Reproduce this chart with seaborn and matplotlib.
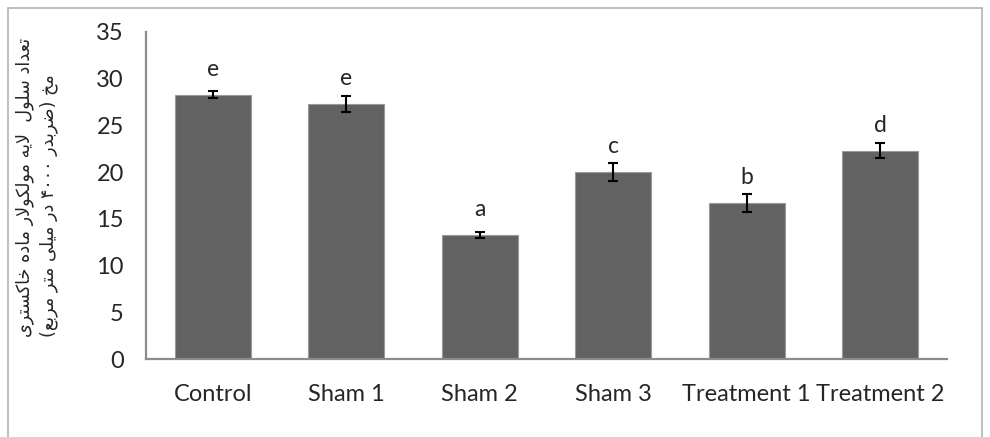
import re
import matplotlib
matplotlib.use('Agg')
import matplotlib.pyplot as plt
from matplotlib.lines import Line2D
import seaborn as sns
import pandas as pd

# data
groups = ['Control', 'Sham 1', 'Sham 2', 'Sham 3', 'Treatment 1', 'Treatment 2']
means = [28.3, 27.3, 13.3, 20.0, 16.7, 22.3]
errors = [0.4, 0.9, 0.3, 1.0, 1.0, 0.8]
letters = ['e', 'e', 'a', 'c', 'b', 'd']
yticks = [0, 5, 10, 15, 20, 25, 30, 35]
ylabel_lines = ['تعداد سلول  لایه مولکولار ماده خاکستری',
                'مخ (ضربدر ۴۰۰۰ در میلی متر مربع)']

# contextual forms (isolated, final, initial, medial) for the letters used
FORMS = {
    'ا': ('\uFE8D', '\uFE8E', None, None),
    'د': ('\uFEA9', '\uFEAA', None, None),
    'ر': ('\uFEAD', '\uFEAE', None, None),
    'و': ('\uFEED', '\uFEEE', None, None),
    'ب': ('\uFE8F', '\uFE90', '\uFE91', '\uFE92'),
    'ت': ('\uFE95', '\uFE96', '\uFE97', '\uFE98'),
    'خ': ('\uFEA5', '\uFEA6', '\uFEA7', '\uFEA8'),
    'س': ('\uFEB1', '\uFEB2', '\uFEB3', '\uFEB4'),
    'ض': ('\uFEBD', '\uFEBE', '\uFEBF', '\uFEC0'),
    'ع': ('\uFEC9', '\uFECA', '\uFECB', '\uFECC'),
    'ل': ('\uFEDD', '\uFEDE', '\uFEDF', '\uFEE0'),
    'م': ('\uFEE1', '\uFEE2', '\uFEE3', '\uFEE4'),
    'ه': ('\uFEE9', '\uFEEA', '\uFEEB', '\uFEEC'),
    'ک': ('\uFB8E', '\uFB8F', '\uFB90', '\uFB91'),
    'ی': ('\uFBFC', '\uFBFD', '\uFBFE', '\uFBFF'),
}


def shape(text):
    def links_next(c):
        return c in FORMS and FORMS[c][2] is not None
    out = []
    i = 0
    while i < len(text):
        c = text[i]
        if c not in FORMS:
            out.append(c)
            i += 1
            continue
        jp = i > 0 and links_next(text[i - 1])
        if c == 'ل' and i + 1 < len(text) and text[i + 1] == 'ا':
            out.append('\uFEFC' if jp else '\uFEFB')
            i += 2
            continue
        jn = links_next(c) and i + 1 < len(text) and text[i + 1] in FORMS
        iso, fin, ini, med = FORMS[c]
        if jp and jn:
            out.append(med)
        elif jp:
            out.append(fin)
        elif jn:
            out.append(ini)
        else:
            out.append(iso)
        i += 1
    # visual order: reverse, keep digit runs left-to-right, mirror brackets
    s = ''.join(out)
    runs = re.findall(r'[0-9\u06F0-\u06F9]+|[^0-9\u06F0-\u06F9]+', s)
    mirror = str.maketrans('()', ')(')
    vis = []
    for r in reversed(runs):
        if r[0] in '0123456789\u06F0\u06F1\u06F2\u06F3\u06F4\u06F5\u06F6\u06F7\u06F8\u06F9':
            vis.append(r)
        else:
            vis.append(r[::-1].translate(mirror))
    return ''.join(vis)


df = pd.DataFrame({'group': groups, 'mean': means})

sns.set_style('white')
plt.rcParams['font.family'] = ['Lato', 'DejaVu Sans']

fig = plt.figure(figsize=(9.9, 4.37), dpi=100)
ax = fig.add_axes([146 / 990, 1 - 359 / 437, 801 / 990, 327 / 437])

sns.barplot(data=df, x='group', y='mean', color='#626262', saturation=1,
            width=0.57, errorbar=None, edgecolor='#9a9a9a', linewidth=0.8, ax=ax)
ax.errorbar(range(len(groups)), means, yerr=errors, fmt='none', ecolor='black',
            elinewidth=1.5, capsize=3.6, capthick=1.5)

for i, (m, lab) in enumerate(zip(means, letters)):
    ax.annotate(lab, (i, m), xytext=(0, 13.7), textcoords='offset points',
                ha='center', va='baseline', fontsize=16.5)

ax.set_ylim(0, 35)
ax.set_yticks(yticks)
ax.set_xlim(-0.5, len(groups) - 0.5)
ax.set_xlabel('')
ax.set_ylabel('')
ax.tick_params(axis='y', length=0, pad=16, labelsize=17)
ax.tick_params(axis='x', length=0, pad=18, labelsize=17)
for side in ['top', 'right']:
    ax.spines[side].set_visible(False)
for side in ['left', 'bottom']:
    ax.spines[side].set_color('#8c8c8c')
    ax.spines[side].set_linewidth(1.6)

ylabel = '\n'.join(shape(t) for t in ylabel_lines)
fig.text(37 / 990, 1 - 337 / 437, ylabel, rotation=90, ha='center', va='bottom',
         multialignment='left', fontsize=12.7, linespacing=1.4,
         family=['DejaVu Sans'])

# light frame around the chart area
for xs, ys in [([8, 8], [437, 8]), ([8, 982], [8, 8]), ([982, 982], [8, 437])]:
    fig.add_artist(Line2D([x / 990 for x in xs], [1 - y / 437 for y in ys],
                          color='#b4b4b4', linewidth=1.2))

fig.savefig('out.png', dpi=100)
